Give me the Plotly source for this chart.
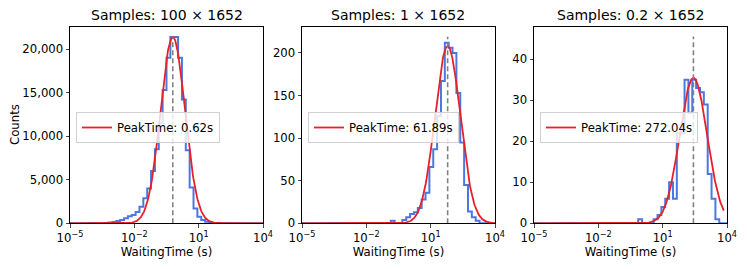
import numpy as np
import plotly.graph_objects as go

# ---------------- data ----------------
TITLES = ["Samples: 100 × 1652", "Samples: 1 × 1652", "Samples: 0.2 × 1652"]
BIN_LOG_MIN = -5.0
BIN_LOG_MAX = 4.0
N_BINS = 50

# histogram counts per bin (bin index -> count); bins not listed are 0
COUNTS_100 = {9: 30, 10: 80, 11: 150, 12: 270, 13: 380, 14: 570, 15: 800, 16: 950,
              17: 1300, 18: 1900, 19: 2870, 20: 4000, 21: 6000, 22: 8500, 23: 11500,
              24: 15300, 25: 19000, 26: 21400, 27: 21400, 28: 19000, 29: 14200,
              30: 8400, 31: 4100, 32: 1700, 33: 760, 34: 380, 35: 190, 36: 80, 37: 30}
COUNTS_1 = {23: 3, 26: 4, 27: 7, 28: 11, 29: 13, 30: 18, 31: 28, 32: 36, 33: 66,
            34: 87, 35: 126, 36: 167, 37: 212, 38: 206, 39: 200, 40: 153, 41: 95,
            42: 45, 43: 14, 44: 7, 45: 3}
COUNTS_02 = {27: 1, 31: 1, 32: 2, 33: 4, 34: 6, 35: 10, 36: 6, 37: 22, 38: 22,
             39: 35, 40: 27, 41: 35, 42: 33, 43: 32, 44: 29, 45: 12, 46: 6, 47: 1}
ALL_COUNTS = [COUNTS_100, COUNTS_1, COUNTS_02]

# log-normal fit parameters
PEAK_TIME = [0.62, 61.89, 272.04]
FIT_AMPLITUDE = [21400, 208, 35.5]
FIT_SIGMA_DEC = [0.57, 0.59, 0.64]
FIT_XMAX_LOG = [4.0, 4.0, 3.85]
VLINE_TOP = [21460, 219, 45.6]
Y_MAX = [22537, 230.5, 47.9]
Y_TICKS = [[0, 5000, 10000, 15000, 20000], [0, 50, 100, 150, 200], [0, 10, 20, 30, 40]]
X_TICKS = [1e-5, 1e-2, 1e1, 1e4]
X_TICKTEXT = ["10<sup>−5</sup>", "10<sup>−2</sup>", "10<sup>1</sup>", "10<sup>4</sup>"]

# ---------------- layout ----------------
W, H = 747, 269
OFF = 8  # page body margin of the browser
PANEL_X = [(70, 263), (302, 495), (534, 727)]
PANEL_Y = (27, 223.3)
FONT = "DejaVu Sans"
BLUE = "#4a78e2"
RED = "#e8202a"


def px_x(v):
    return (v - OFF) / W


def px_y(v):
    return 1 - (v - OFF) / H


fig = go.Figure()
edges = np.logspace(BIN_LOG_MIN, BIN_LOG_MAX, N_BINS + 1)

for i in range(3):
    xa = "x" if i == 0 else f"x{i+1}"
    ya = "y" if i == 0 else f"y{i+1}"
    leg = "legend" if i == 0 else f"legend{i+1}"
    counts = [ALL_COUNTS[i].get(k, 0) for k in range(N_BINS)]
    sx = [edges[0]] + list(edges[:N_BINS]) + [edges[N_BINS]]
    sy = [0] + counts + [0]
    fig.add_trace(go.Scatter(x=sx, y=sy, mode="lines", line=dict(color=BLUE, width=2, shape="hv"),
                             xaxis=xa, yaxis=ya, showlegend=False, hoverinfo="skip"))
    lx = np.linspace(BIN_LOG_MIN, FIT_XMAX_LOG[i], 400)
    mu = np.log10(PEAK_TIME[i])
    fy = FIT_AMPLITUDE[i] * np.exp(-(lx - mu) ** 2 / (2 * FIT_SIGMA_DEC[i] ** 2))
    fig.add_trace(go.Scatter(x=10 ** lx, y=fy, mode="lines", line=dict(color=RED, width=1.8),
                             xaxis=xa, yaxis=ya, name=f"PeakTime: {PEAK_TIME[i]:.2f}s",
                             legend=leg, showlegend=True))
    fig.add_trace(go.Scatter(x=[PEAK_TIME[i], PEAK_TIME[i]], y=[0, VLINE_TOP[i]], mode="lines",
                             line=dict(color="#808080", width=1.6, dash="5px,3px"),
                             xaxis=xa, yaxis=ya, showlegend=False, hoverinfo="skip"))

layout = dict(width=W, height=H, margin=dict(l=0, r=0, t=0, b=0),
              paper_bgcolor="white", plot_bgcolor="white",
              font=dict(family=FONT, size=11.7, color="black"))
y0 = px_y(PANEL_Y[1])
y1 = px_y(PANEL_Y[0])
annotations = []
for i in range(3):
    sfx = "" if i == 0 else str(i + 1)
    x0, x1 = PANEL_X[i]
    layout["xaxis" + sfx] = dict(
        domain=[px_x(x0), px_x(x1)], anchor="y" + sfx, type="log", range=[-5, 4],
        tickvals=X_TICKS, ticktext=X_TICKTEXT, ticks="outside", ticklen=3.5, tickwidth=0.8,
        showline=True, linecolor="black", linewidth=0.9, mirror=True, showgrid=False,
        zeroline=False, tickfont=dict(size=11.7), automargin=False,
        title=dict(text="WaitingTime (s)", font=dict(size=11.7), standoff=4))
    layout["yaxis" + sfx] = dict(
        domain=[y0, y1], anchor="x" + sfx, range=[0, Y_MAX[i]], tickvals=Y_TICKS[i],
        tickformat=",", ticks="outside", ticklen=3.5, tickwidth=0.8,
        showline=True, linecolor="black", linewidth=0.9, mirror=True, showgrid=False,
        zeroline=False, tickfont=dict(size=11.7), automargin=False)
    layout["legend" + sfx] = dict(
        x=px_x(x0 + 6), y=px_y(112), xanchor="left", yanchor="top",
        bgcolor="rgba(255,255,255,0.8)", bordercolor="#d0d0d0", borderwidth=1,
        font=dict(size=11.7), itemwidth=30, tracegroupgap=0)
    annotations.append(dict(text=TITLES[i], x=px_x((x0 + x1) / 2), y=px_y(15), xref="paper",
                            yref="paper", showarrow=False, xanchor="center", yanchor="middle",
                            font=dict(size=14)))
annotations.append(dict(text="Counts", x=px_x(15), y=px_y(125), xref="paper", yref="paper",
                        showarrow=False, textangle=-90, xanchor="center", yanchor="middle",
                        font=dict(size=11.7)))
layout["annotations"] = annotations
fig.update_layout(**layout)
fig.write_html("out.html")
